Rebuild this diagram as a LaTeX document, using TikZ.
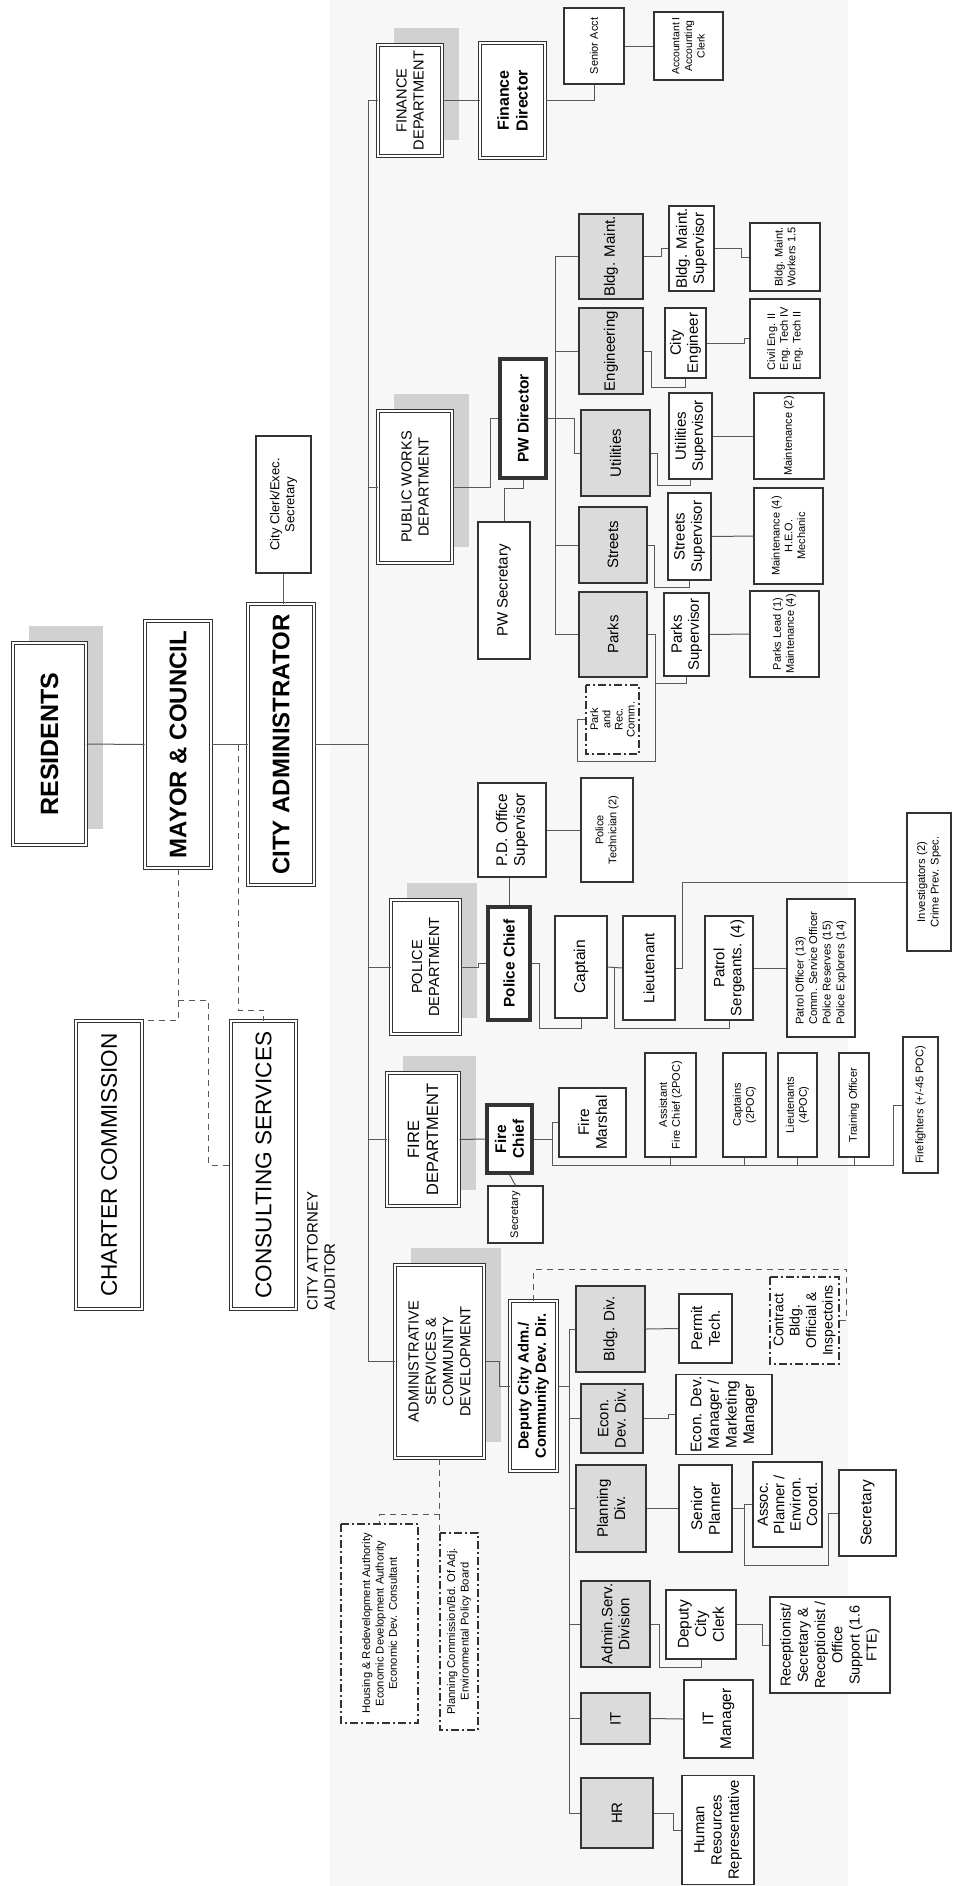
\documentclass[tikz,border=0pt]{standalone}
\usepackage{fontspec}
\setmainfont{Liberation Sans}
\usetikzlibrary{calc, backgrounds}
\tikzset{
    orgbox/.style={draw=black!80, line width=0.6pt, fill=white, rotate=90, inner sep=1pt,
        align=center, font=\fontsize{7.5}{8.6}\selectfont},
    deptbox/.style={orgbox, double=white, double distance=1.1pt, line width=0.5pt,
        font=\fontsize{7.3}{8.6}\selectfont},
    headbox/.style={orgbox, line width=1.6pt, font=\bfseries\fontsize{7.7}{8.8}\selectfont},
    divbox/.style={orgbox, fill=black!14, line width=0.9pt},
    boardbox/.style={orgbox, dash pattern=on 4pt off 1.6pt on 0.8pt off 1.6pt},
    smalltxt/.style={font=\fontsize{5.5}{6.4}\selectfont},
    conn/.style={draw=black!65, line width=0.5pt},
    dashconn/.style={conn, dash pattern=on 3pt off 2.5pt},
    shadowfill/.style={fill=black!18},
    boxsize/.style 2 args={minimum height=#1*0.5pt, minimum width=#2*0.5pt},
}
\begin{document}
\begin{tikzpicture}[x=0.5pt, y=-0.5pt]
    \useasboundingbox (0,0) rectangle (953,1886);
    %% top of the chart
    \node[deptbox, boxsize={73}{202}, font=\bfseries\fontsize{12.5}{15}\selectfont] (res) at (49.5,744) {RESIDENTS};
    \node[deptbox, boxsize={66}{247}, font=\bfseries\fontsize{12}{14}\selectfont] (mayor) at (178,744.5) {MAYOR \& COUNCIL};
    \node[deptbox, boxsize={66}{281}, font=\bfseries\fontsize{12}{14}\selectfont] (cadm) at (281,744.5) {CITY ADMINISTRATOR};
    \node[orgbox, boxsize={55}{137}, font=\fontsize{6.5}{7.6}\selectfont] (clerk) at (283.5,504.5) {City Clerk/Exec.\\Secretary};
    \node[deptbox, boxsize={66}{288}, font=\fontsize{11.3}{13}\selectfont] (charter) at (109,1165) {CHARTER COMMISSION};
    \node[deptbox, boxsize={65}{288}, font=\fontsize{11.3}{13}\selectfont] (consult) at (263.5,1165) {CONSULTING SERVICES};
    \node[rotate=90, anchor=west, align=left, inner sep=0pt, font=\fontsize{7.5}{8.6}\selectfont] (attny) at (321,1311) {CITY ATTORNEY\\AUDITOR};
    %% departments
    \node[deptbox, boxsize={64}{111}] (fin) at (410,100.5) {FINANCE\\DEPARTMENT};
    \node[deptbox, boxsize={74}{152}] (pw) at (415,487) {PUBLIC WORKS\\DEPARTMENT};
    \node[deptbox, boxsize={69}{134}] (pol) at (425.5,967) {POLICE\\DEPARTMENT};
    \node[deptbox, boxsize={72}{133}, font=\fontsize{8.2}{9.6}\selectfont] (fire) at (423,1139.5) {FIRE\\DEPARTMENT};
    \node[deptbox, boxsize={89}{193}] (adm) at (439.5,1361.5) {ADMINISTRATIVE\\SERVICES \&\\COMMUNITY\\DEVELOPMENT};
    %% finance
    \node[deptbox, boxsize={65}{115}, font=\bfseries\fontsize{8}{9.4}\selectfont] (fdir) at (512.5,100.5) {Finance\\Director};
    \node[orgbox, smalltxt, boxsize={60}{76}] (sacct) at (594,46) {Senior Acct};
    \node[orgbox, boxsize={69}{68}, font=\fontsize{5.2}{6.3}\selectfont] (acct) at (688.5,46) {Accountant I\\Accounting\\Clerk};
    %% public works
    \node[headbox, boxsize={46}{119}] (pwdir) at (523,418.5) {PW Director};
    \node[orgbox, boxsize={52}{137}] (pwsec) at (504,590.5) {PW Secretary};
    \node[divbox, boxsize={64}{85}] (bmaint) at (611,256.5) {Bldg. Maint.};
    \node[orgbox, boxsize={45}{85}] (bmsup) at (691.5,248.5) {Bldg. Maint.\\Supervisor};
    \node[orgbox, smalltxt, boxsize={70}{68}] (bmwork) at (785,257) {Bldg. Maint.\\Workers 1.5};
    \node[divbox, boxsize={64}{86}] (eng) at (611,351) {Engineering};
    \node[orgbox, boxsize={41}{70}] (ceng) at (685.5,343) {City\\Engineer};
    \node[orgbox, smalltxt, boxsize={70}{79}, align=left] (civil) at (785,338.5) {Civil Eng. II\\Eng. Tech IV\\Eng. Tech II};
    \node[divbox, boxsize={69}{86}] (util) at (615.5,453) {Utilities};
    \node[orgbox, boxsize={43}{86}] (usup) at (690.5,436) {Utilities\\Supervisor};
    \node[orgbox, smalltxt, boxsize={70}{86}] (umaint) at (789,436) {Maintenance (2)};
    \node[divbox, boxsize={68}{76}] (streets) at (613,545) {Streets};
    \node[orgbox, boxsize={43}{87}] (ssup) at (689.5,536.5) {Streets\\Supervisor};
    \node[orgbox, smalltxt, boxsize={69}{96}] (smaint) at (788.5,536) {Maintenance (4)\\H.E.O.\\Mechanic};
    \node[divbox, boxsize={68}{85}] (parks) at (613,634.5) {Parks};
    \node[orgbox, boxsize={45}{83}] (psup) at (686.5,634.5) {Parks\\Supervisor};
    \node[orgbox, smalltxt, boxsize={69}{86}] (plead) at (784.5,634) {Parks Lead (1)\\Maintenance (4)};
    \node[boardbox, boxsize={53}{69}, font=\fontsize{5.5}{6.1}\selectfont] (prc) at (612.5,719.5) {Park\\and\\Rec.\\Comm.};
    %% police
    \node[headbox, boxsize={42}{113}] (pchief) at (509,963.5) {Police Chief};
    \node[orgbox, boxsize={68}{94}, font=\fontsize{7.7}{8.8}\selectfont] (pdoff) at (512,830) {P.D. Office\\Supervisor};
    \node[orgbox, smalltxt, boxsize={52}{104}] (ptech) at (607,830) {Police\\Technician (2)};
    \node[orgbox, boxsize={52}{102}, font=\fontsize{7.8}{9}\selectfont] (capt) at (581,967) {Captain};
    \node[orgbox, boxsize={52}{104}] (lieut) at (649,968) {Lieutenant};
    \node[orgbox, boxsize={48}{104}] (psgt) at (729,968) {Patrol\\Sergeants. (4)};
    \node[orgbox, boxsize={68}{138}, font=\fontsize{5.6}{6.8}\selectfont, align=left] (pofc) at (821,968) {Patrol Officer (13)\\Comm. Service Officer\\Police Reserves (15)\\Police Explorers (14)};
    \node[orgbox, boxsize={44}{138}, font=\fontsize{5.6}{6.8}\selectfont] (invest) at (929,882) {Investigators (2)\\Crime Prev. Spec.};
    %% fire
    \node[headbox, boxsize={45}{68}] (fchief) at (509.5,1139) {Fire\\Chief};
    \node[orgbox, smalltxt, boxsize={55}{57}] (fsec) at (515.5,1214.5) {Secretary};
    \node[orgbox, boxsize={67}{69}, font=\fontsize{7.7}{8.8}\selectfont] (fmar) at (592.5,1122.5) {Fire\\Marshal};
    \node[orgbox, smalltxt, boxsize={51}{104}] (asst) at (670.5,1105) {Assistant\\Fire Chief (2POC)};
    \node[orgbox, smalltxt, boxsize={43}{104}] (fcapt) at (744.5,1105) {Captains\\(2POC)};
    \node[orgbox, smalltxt, boxsize={39}{104}] (flieut) at (797.5,1105) {Lieutenants\\(4POC)};
    \node[orgbox, smalltxt, boxsize={30}{104}] (ftrain) at (854,1105) {Training Officer};
    \node[orgbox, smalltxt, boxsize={35}{136}] (ffight) at (920.5,1105) {Firefighters (+/-45 POC)};
    %% administrative services & community development
    \node[deptbox, boxsize={47}{170}, font=\bfseries\fontsize{7.4}{8.6}\selectfont] (depadm) at (533.5,1386) {Deputy City Adm./\\Community Dev. Dir.};
    \node[divbox, boxsize={69}{86}] (bdiv) at (610.5,1329) {Bldg. Div.};
    \node[orgbox, boxsize={53}{69}, font=\fontsize{7.7}{8.8}\selectfont] (permit) at (705.5,1328.5) {Permit\\Tech.};
    \node[boardbox, boxsize={69}{87}, font=\fontsize{7}{8.2}\selectfont] (contract) at (804.5,1320.5) {Contract\\Bldg.\\Official \&\\Inspectoins};
    \node[divbox, boxsize={62}{69}] (ediv) at (612,1418.5) {Econ.\\Dev. Div.};
    \node[orgbox, boxsize={96}{77}, font=\fontsize{7.7}{8.8}\selectfont] (emgr) at (724,1414.5) {Econ. Dev.\\Manager /\\Marketing\\Manager};
    \node[divbox, boxsize={70}{87}] (pdiv) at (611,1508.5) {Planning\\Div.};
    \node[orgbox, boxsize={53}{87}, font=\fontsize{7.7}{8.8}\selectfont] (splan) at (705.5,1508.5) {Senior\\Planner};
    \node[orgbox, boxsize={69}{85}, font=\fontsize{7.4}{8.2}\selectfont] (aplan) at (787.5,1504.5) {Assoc.\\Planner /\\Environ.\\Coord.};
    \node[orgbox, boxsize={57}{86}, font=\fontsize{7.7}{8.8}\selectfont] (psec) at (867.5,1513) {Secretary};
    \node[divbox, boxsize={69}{86}] (asdiv) at (615.5,1624) {Admin.Serv.\\Division};
    \node[orgbox, boxsize={70}{69}, font=\fontsize{7.7}{8.8}\selectfont] (dclerk) at (701,1624.5) {Deputy\\City\\Clerk};
    \node[orgbox, boxsize={120}{96}, font=\fontsize{7.2}{8.6}\selectfont] (recep) at (830,1645) {Receptionist/\\Secretary \&\\Receptionist /\\Office\\Support (1.6\\FTE)};
    \node[divbox, boxsize={69}{51}] (it) at (615.5,1718.5) {IT};
    \node[orgbox, boxsize={69}{78}, font=\fontsize{7.7}{8.8}\selectfont] (itmgr) at (718.5,1719) {IT\\Manager};
    \node[divbox, boxsize={72}{70}] (hr) at (617,1813) {HR};
    \node[orgbox, boxsize={72}{109}, font=\fontsize{7.4}{8.6}\selectfont] (hrrep) at (718,1830) {Human\\Resources\\Representative};
    \node[boardbox, boxsize={77}{199}, font=\fontsize{5.6}{6.7}\selectfont] (housing) at (379.5,1623.5) {Housing \& Redevelopment Authority\\Economic Development Authority\\Economic Dev. Consultant};
    \node[boardbox, boxsize={38}{197}, font=\fontsize{5.6}{6.7}\selectfont] (plcomm) at (459,1631.5) {Planning Commission/Bd. Of Adj.\\Environmental Policy Board};
    %% connectors: top
    \draw[conn] (res.south) -- (mayor.north);
    \draw[conn] (mayor.south) -- (cadm.north);
    \draw[conn] (clerk.west) -- (clerk.west |- cadm.east);
    \coordinate (busx) at (368,0);
    \draw[conn] (cadm.south) -- (cadm.south -| busx);
    \draw[conn] (fin.north) -| (busx |- adm.north) -- (adm.north);
    \foreach \n in {pw,pol,fire}
        \draw[conn] (\n.north) -- (\n.north -| busx);
    \coordinate (mcjoin) at (238,744.5);
    \draw[dashconn] (mayor.west) -- (mayor.west |- charter.south east) -- (charter.south east);
    \draw[dashconn] (mayor.west) ++(0,132) -| ($(consult.north)+(-22,0)$) -- (consult.north);
    \draw[dashconn] (mcjoin) -- ++(0,265.5) -| (consult.east);
    %% connectors: finance
    \draw[conn] (fin.south) -- (fdir.north);
    \draw[conn] (fdir.south) -| (sacct.west);
    \draw[conn] (sacct.south) -- (acct.north);
    %% connectors: public works
    \draw[conn] (pw.south) -| ($(pwdir.north)+(-8,0)$) -- (pwdir.north);
    \draw[conn] (pwdir.west) -- ++(0,9) -| (pwsec.east);
    \coordinate (pwbus) at (555,0);
    \draw[conn] (bmaint.north) -- (bmaint.north -| pwbus) |- (parks.north);
    \foreach \n in {eng,streets}
        \draw[conn] (\n.north) -- (\n.north -| pwbus);
    \draw[conn] (pwdir.south) -- ++(27,0) |- (util.north);
    \draw[conn] (bmaint.south) -- ++(18,0) |- (bmsup.north);
    \draw[conn] (bmsup.south) -- ++(27,0) |- (bmwork.north);
    \draw[conn] (eng.south) -- ++(8,0) -- ++(0,36) -| (ceng.west);
    \draw[conn] (ceng.south) -- ++(38,0) |- (civil.north);
    \draw[conn] (util.south) -- ++(7,0) -- ++(0,32) -| (usup.west);
    \draw[conn] (usup.south) -- (umaint.north);
    \draw[conn] (streets.south) -- ++(7,0) -- ++(0,42) -| (ssup.west);
    \draw[conn] (ssup.south) -- (smaint.north);
    \draw[conn] (parks.south) -- ++(8,0) -- ++(0,48.5) -| (psup.west);
    \draw[conn] (parks.south) ++(8,0) |- ($(prc.north)+(-8,42)$) |- (prc.north);
    \draw[conn] (psup.south) -- (plead.north);
    %% connectors: police
    \draw[conn] (pol.south) -- ++(18,0) |- (pchief.north);
    \draw[conn] (pchief.east) -- (pchief.east |- pdoff.west);
    \draw[conn] (pdoff.south) -- (ptech.north);
    \draw[conn] (pchief.south) -- ++(8,0) |- ($(capt.west)+(0,10)$) -- (capt.west);
    \draw[conn] (capt.south) -- (lieut.north);
    \draw[conn] (capt.south) ++(7,0) |- ($(psgt.west)+(0,8)$) -- (psgt.west);
    \draw[conn] (lieut.south) -- ++(7,0) |- (invest.north);
    \draw[conn] (psgt.south) -- (pofc.north);
    %% connectors: fire
    \coordinate (frow) at (0,1165);
    \draw[conn] (fire.south) -- (fchief.north);
    \draw[conn] (fchief.west) -- (fsec.east);
    \draw[conn] (fchief.south) -- ++(19,0) |- (fmar.north);
    \draw[conn] (fchief.south) ++(19,0) |- ($(ffight.north)+(-9,60)$) |- (ffight.north);
    \foreach \n in {asst,fcapt,flieut,ftrain}
        \draw[conn] (\n.west) -- (\n.west |- frow);
    %% connectors: administrative services
    \draw[conn] (adm.south) -- ++(15,0) |- (depadm.north);
    \coordinate (cdbus) at (569,0);
    \draw[conn] (depadm.south) -- (depadm.south -| cdbus);
    \draw[conn] (bdiv.north) -- (bdiv.north -| cdbus) |- (hr.north);
    \foreach \n in {ediv,pdiv,asdiv,it}
        \draw[conn] (\n.north) -- (\n.north -| cdbus);
    \draw[conn] (bdiv.south) -- (permit.north);
    \draw[dashconn] (depadm.east) -- ++(0,-31) -| ($(contract.south)+(7,0)$) -- (contract.south);
    \draw[conn] (ediv.south) -- ++(25,0) |- (emgr.north);
    \draw[conn] (pdiv.south) -- (splan.north);
    \draw[conn] (splan.south) -- ++(12,0) |- (aplan.north);
    \draw[conn] (splan.south) ++(12,0) |- ($(psec.north)+(-10,52)$) |- (psec.north);
    \draw[conn] (asdiv.south) -- ++(9,0) -- ++(0,43) -| (dclerk.west);
    \draw[conn] (dclerk.south) -- ++(26,0) |- (recep.north);
    \draw[conn] (it.south) -- (itmgr.north);
    \draw[conn] (hr.south) -- ++(20,0) |- (hrrep.north);
    \draw[dashconn] (adm.west) -- (adm.west |- plcomm.north east);
    \draw[dashconn] (adm.west) ++(0,56) -| (housing.east);
    %% background tint and shadows
    \begin{scope}[on background layer]
        \fill[black!3] (330,0) rectangle (848,1886);
        \foreach \n in {res,fin,pw,pol,fire,adm}
            \fill[shadowfill] ($(\n.north west)+(16,-17)$) rectangle ($(\n.south east)+(16,-17)$);
    \end{scope}
\end{tikzpicture}
\end{document}
